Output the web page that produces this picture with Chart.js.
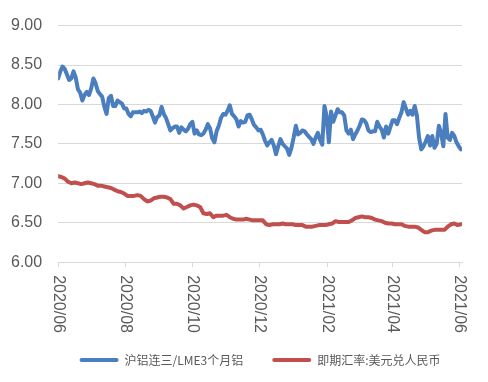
<!DOCTYPE html>
<html>
<head>
<meta charset="utf-8">
<script src="https://cdn.jsdelivr.net/npm/chart.js@4"></script>
<style>
  body { margin: 0; background: #fff; }
</style>
</head>
<body>
<canvas id="chart" width="488" height="382"></canvas>
<script>
// x is "days since 2020/06/01"
const tickDays = [0, 61, 122, 183, 245, 304, 365];
const tickLabels = ['2020/06', '2020/08', '2020/10', '2020/12', '2021/02', '2021/04', '2021/06'];
const seriesNames = ['沪铝连三/LME3个月铝', '即期汇率:美元兑人民币'];

// 沪铝连三/LME3个月铝, one reading every 2 days
const aluStep = 2;
const aluRatio = [
    8.33, 8.42, 8.48, 8.45, 8.38, 8.31, 8.33, 8.42, 8.34, 8.19,
    8.15, 8.05, 8.12, 8.16, 8.12, 8.20, 8.33, 8.27, 8.17, 8.13,
    8.10, 7.97, 7.88, 8.08, 8.11, 7.98, 7.98, 8.05, 8.03, 8.01,
    7.95, 7.95, 7.88, 7.85, 7.90, 7.90, 7.90, 7.91, 7.89, 7.92,
    7.91, 7.93, 7.92, 7.85, 7.77, 7.84, 7.86, 7.97, 7.88, 7.83,
    7.75, 7.67, 7.70, 7.72, 7.72, 7.64, 7.71, 7.68, 7.66, 7.69,
    7.75, 7.78, 7.63, 7.67, 7.62, 7.61, 7.63, 7.68, 7.75, 7.70,
    7.57, 7.52, 7.66, 7.73, 7.83, 7.88, 7.87, 7.92, 7.99, 7.88,
    7.85, 7.81, 7.72, 7.79, 7.77, 7.78, 7.86, 7.87, 7.81, 7.74,
    7.71, 7.67, 7.68, 7.62, 7.54, 7.48, 7.52, 7.55, 7.48, 7.37,
    7.47, 7.56, 7.50, 7.47, 7.44, 7.36, 7.45, 7.58, 7.73, 7.62,
    7.64, 7.67, 7.66, 7.62, 7.59, 7.56, 7.50, 7.58, 7.64, 7.55,
    7.49, 7.98, 7.85, 7.52, 7.91, 7.78, 7.86, 7.94, 7.90, 7.90,
    7.86, 7.67, 7.63, 7.68, 7.56, 7.62, 7.67, 7.73, 7.81, 7.80,
    7.76, 7.67, 7.65, 7.66, 7.66, 7.78, 7.72, 7.68, 7.58, 7.72,
    7.63, 7.72, 7.80, 7.80, 7.75, 7.83, 7.90, 8.03, 7.95, 7.87,
    7.92, 7.87, 7.98, 7.86, 7.58, 7.43, 7.47, 7.53, 7.60, 7.48,
    7.60, 7.45, 7.50, 7.73, 7.64, 7.47, 7.88, 7.58, 7.55, 7.64,
    7.60, 7.52, 7.47, 7.43
];

// 即期汇率:美元兑人民币, one reading every 3 days
const fxStep = 3;
const fxRate = [
    7.09, 7.08, 7.06, 7.02, 7.00, 7.01, 7.00, 6.99, 7.00, 7.01,
    7.00, 6.99, 6.97, 6.97, 6.96, 6.95, 6.94, 6.92, 6.90, 6.89,
    6.87, 6.84, 6.84, 6.84, 6.85, 6.84, 6.80, 6.77, 6.78, 6.81,
    6.82, 6.83, 6.83, 6.82, 6.80, 6.74, 6.74, 6.72, 6.68, 6.70,
    6.72, 6.73, 6.72, 6.70, 6.62, 6.61, 6.62, 6.57, 6.59, 6.59,
    6.59, 6.60, 6.57, 6.55, 6.54, 6.54, 6.54, 6.55, 6.54, 6.53,
    6.53, 6.53, 6.53, 6.48, 6.47, 6.48, 6.48, 6.48, 6.49, 6.48,
    6.48, 6.48, 6.47, 6.47, 6.47, 6.45, 6.45, 6.45, 6.46, 6.47,
    6.47, 6.47, 6.48, 6.49, 6.52, 6.51, 6.51, 6.51, 6.51, 6.53,
    6.56, 6.57, 6.58, 6.57, 6.57, 6.56, 6.54, 6.53, 6.52, 6.50,
    6.49, 6.49, 6.48, 6.48, 6.48, 6.46, 6.45, 6.45, 6.45, 6.44,
    6.41, 6.38, 6.38, 6.40, 6.41, 6.41, 6.41, 6.41, 6.45, 6.48,
    6.49, 6.47, 6.48
];

const BLUE = '#4a7ebf';
const RED = '#c0504d';
const TEXT = '#595959';
const GRID = '#d9d9d9';
const tickFont = "'Liberation Sans', Arial, sans-serif";

//x labels in the reference read top to bottom, chart.js only rotates the other way
const xLabelPlugin = {
    id: 'xLabels',
    afterLayout(chart) {
        // center the legend row under the plot instead of the whole canvas
        const lg = chart.legend;
        const dx = (chart.chartArea.left + chart.chartArea.right) / 2 - (lg.left + lg.right) / 2;
        lg.left += dx;
        lg.right += dx;
    },
    afterDraw(chart) {
        const sx = chart.scales.x;
        const ctx = chart.ctx;
        ctx.save();
        ctx.fillStyle = TEXT;
        ctx.font = '16px ' + tickFont;
        ctx.textAlign = 'left';
        ctx.textBaseline = 'middle';
        tickDays.forEach((d, i) => {
            ctx.save();
            ctx.translate(sx.getPixelForValue(d), sx.top + 5 + 8);
            ctx.rotate(Math.PI / 2);
            ctx.fillText(tickLabels[i], 0, 0);
            ctx.restore();
        });
        ctx.restore();
    }
};

const config = {
    type: 'line',
    data: {
        datasets: [{
            label: seriesNames[0],
            data: aluRatio.map((v, i) => ({x: i * aluStep, y: v})),
            borderColor: BLUE,
            backgroundColor: BLUE,
            borderWidth: 4,
        }, {
            label: seriesNames[1],
            data: fxRate.map((v, i) => ({x: i * fxStep, y: v})),
            borderColor: RED,
            backgroundColor: RED,
            borderWidth: 4,
        }]
    },
    options: {
        responsive: false,
        animation: false,
        devicePixelRatio: 1,
        elements: {
            point: {radius: 0},
            line: {tension: 0, borderJoinStyle: 'round', borderCapStyle: 'round'}
        },
        layout: {padding: {top: 14.4, left: -5, right: 26, bottom: 6}},
        scales: {
            x: {
                type: 'linear',
                min: 0,
                max: 367,
                afterBuildTicks: (scale) => {
                    scale.ticks = tickDays.map(v => ({value: v}));
                },
                ticks: {
                    autoSkip: false,
                    minRotation: 90,
                    maxRotation: 90,
                    padding: 6,
                    color: 'rgba(0,0,0,0)',
                    font: {family: tickFont, size: 16},
                    callback: (v, i) => tickLabels[i]
                },
                grid: {drawOnChartArea: false, color: GRID, tickLength: 5},
                border: {color: GRID}
            },
            y: {
                min: 6,
                max: 9,
                ticks: {
                    stepSize: 0.5,
                    padding: 16,
                    color: TEXT,
                    font: {family: tickFont, size: 16},
                    callback: v => v.toFixed(2)
                },
                grid: {color: GRID, drawTicks: false},
                border: {display: false}
            }
        },
        plugins: {
            tooltip: {enabled: false},
            legend: {
                position: 'bottom',
                labels: {
                    boxWidth: 39,
                    boxHeight: 4,
                    padding: 17,
                    color: TEXT,
                    font: {family: "'Noto Sans CJK SC', sans-serif", size: 12},
                    generateLabels: (chart) => {
                        const items = Chart.defaults.plugins.legend.labels.generateLabels(chart);
                        items.forEach(it => {
                            it.lineWidth = 0;
                            it.fillStyle = it.strokeStyle;
                            it.borderRadius = 2;
                        });
                        items[0].text += '\u3000';
                        return items;
                    }
                }
            }
        }
    },
    plugins: [xLabelPlugin]
};

const myChart = new Chart(document.getElementById('chart'), config);
</script>
</body>
</html>
